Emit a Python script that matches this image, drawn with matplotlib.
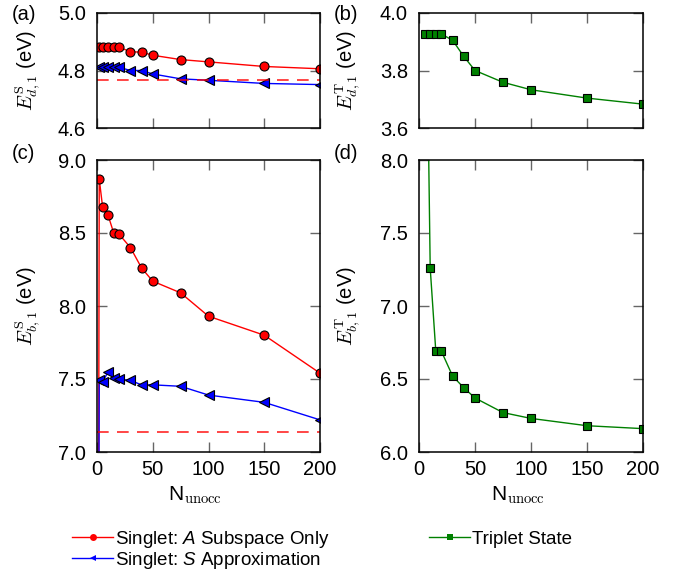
import matplotlib
matplotlib.use("Agg")
import matplotlib.pyplot as plt
from matplotlib.lines import Line2D

plt.rcParams['font.family'] = ['Liberation Sans', 'DejaVu Sans']
plt.rcParams['font.size'] = 14
plt.rcParams['mathtext.fontset'] = 'custom'
plt.rcParams['mathtext.rm'] = 'Liberation Sans'
plt.rcParams['mathtext.it'] = 'Liberation Sans:italic'

# ---------------- data ----------------
x_d = [2, 5, 10, 15, 20, 30, 40, 50, 75, 100, 150, 200]
d_singlet_A = [4.882, 4.882, 4.881, 4.881, 4.881, 4.865, 4.864, 4.853, 4.838, 4.830, 4.814, 4.806]
d_singlet_S = [4.811, 4.811, 4.811, 4.811, 4.811, 4.800, 4.800, 4.788, 4.771, 4.766, 4.755, 4.751]
d_ref = 4.767

x_t = [5, 10, 15, 20, 30, 40, 50, 75, 100, 150, 200]
d_triplet = [3.927, 3.927, 3.927, 3.927, 3.905, 3.849, 3.800, 3.759, 3.733, 3.704, 3.683]

x_b = [1, 2, 5, 10, 15, 20, 30, 40, 50, 75, 100, 150, 200]
b_singlet_A = [5.0, 8.87, 8.68, 8.62, 8.50, 8.49, 8.40, 8.26, 8.17, 8.09, 7.93, 7.80, 7.54]
b_singlet_S = [5.0, 7.49, 7.48, 7.55, 7.51, 7.50, 7.49, 7.46, 7.46, 7.45, 7.39, 7.34, 7.22]
b_ref = 7.14

b_triplet = [10.1, 7.26, 6.69, 6.69, 6.52, 6.44, 6.37, 6.27, 6.23, 6.18, 6.16]

x_ticks = [0, 50, 100, 150, 200]
yticks_a = [4.6, 4.8, 5.0]
yticks_b = [3.6, 3.8, 4.0]
yticks_c = [7.0, 7.5, 8.0, 8.5, 9.0]
yticks_d = [6.0, 6.5, 7.0, 7.5, 8.0]

labels = ['Singlet: $\\mathit{A}$ Subspace Only',
          'Singlet: $\\mathit{S}$ Approximation',
          'Triplet State']

RED = '#ff0000'
BLUE = '#0000ff'
GREEN = '#008000'

W, H = 685, 572
fig = plt.figure(figsize=(W / 100, H / 100), dpi=100)

def rect(l, r, t, b):
    return [l / W, 1 - b / H, (r - l) / W, (b - t) / H]

ax_a = fig.add_axes(rect(97, 320, 13, 128))
ax_b = fig.add_axes(rect(419, 643, 13, 128))
ax_c = fig.add_axes(rect(97, 320, 160, 452))
ax_d = fig.add_axes(rect(419, 643, 160, 452))

def style(ax, yticks, ylim, show_x):
    ax.set_xlim(0, 200)
    ax.set_ylim(*ylim)
    ax.set_xticks(x_ticks)
    ax.set_yticks(yticks)
    ax.set_yticklabels([f'{v:.1f}' for v in yticks])
    if not show_x:
        ax.set_xticklabels([])
    ax.tick_params(direction='in', top=True, right=True, length=7, width=1,
                   color='#666666', labelsize=14.5, pad=6)
    ax.tick_params(axis='y', pad=8)
    for s in ax.spines.values():
        s.set_linewidth(1.1)
        s.set_color('black')

line_kw = dict(lw=1.0, markeredgecolor='black', markeredgewidth=0.8)

# (a)
ax_a.plot(x_d, d_singlet_A, '-o', color=RED, ms=6.5, **line_kw)
ax_a.plot(x_d, d_singlet_S, '-<', color=BLUE, ms=7, **line_kw)
ax_a.axhline(d_ref, color=RED, lw=1.2, ls=(0, (7, 5)), alpha=0.85)
style(ax_a, yticks_a, (4.6, 5.0), False)

# (b)
ax_b.plot(x_t, d_triplet, '-s', color=GREEN, ms=6, **line_kw)
style(ax_b, yticks_b, (3.6, 4.0), False)

# (c)
ax_c.plot(x_b, b_singlet_A, '-o', color=RED, ms=6.5, **line_kw)
ax_c.plot(x_b, b_singlet_S, '-<', color=BLUE, ms=7, **line_kw)
ax_c.axhline(b_ref, color=RED, lw=1.2, ls=(0, (7, 5)), alpha=0.85)
style(ax_c, yticks_c, (7.0, 9.0), True)

# (d)
ax_d.plot(x_t, b_triplet, '-s', color=GREEN, ms=6, **line_kw)
style(ax_d, yticks_d, (6.0, 8.0), True)

ylabels = [(ax_a, r'$E^{\rm S}_{d,1}$ (eV)', -0.242),
           (ax_b, r'$E^{\rm T}_{d,1}$ (eV)', -0.25),
           (ax_c, r'$E^{\rm S}_{b,1}$ (eV)', -0.242),
           (ax_d, r'$E^{\rm T}_{b,1}$ (eV)', -0.25)]
for ax, lab, xc in ylabels:
    ax.set_ylabel(lab, fontsize=14.5, math_fontfamily='cm')
    ax.yaxis.set_label_coords(xc, 0.5)

for ax in (ax_c, ax_d):
    ax.set_xlabel(r'N$_{\rm unocc}$', fontsize=15, math_fontfamily='cm')
    ax.xaxis.set_label_coords(0.44, -0.11)

for txt, x, y in [('(a)', 12, 15), ('(b)', 334, 15), ('(c)', 12, 154), ('(d)', 334, 154)]:
    fig.text(x / W, 1 - y / H, txt, fontsize=14.5, ha='left', va='center')

handles = [
    Line2D([], [], color=RED, lw=1.0, marker='o', ms=5, markeredgewidth=0),
    Line2D([], [], color=BLUE, lw=1.0, marker='<', ms=5, markeredgewidth=0),
    Line2D([], [], color=GREEN, lw=1.0, marker='s', ms=4.5, markeredgewidth=0),
]
fig.legend(handles, labels, ncol=2, loc='upper left',
           bbox_to_anchor=(72 / W, 1 - 529 / H), frameon=False,
           fontsize=13.5, handlelength=2.2, handletextpad=0.1,
           columnspacing=5.3, labelspacing=0.0, borderpad=0, borderaxespad=0)

fig.savefig('out.png', dpi=100)
